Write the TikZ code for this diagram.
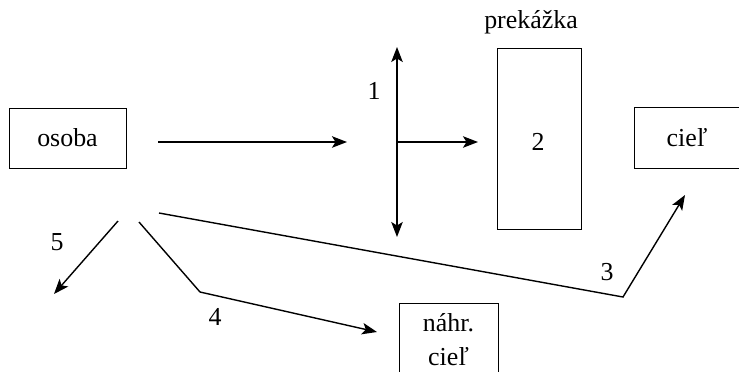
\documentclass[tikz,border=0pt]{standalone}
\usepackage{fontspec}
\setmainfont{Liberation Serif}
\usetikzlibrary{arrows.meta}
\begin{document}
\begin{tikzpicture}[x=1bp,y=-1bp,
  every node/.style={font=\fontsize{26}{34}\selectfont, inner sep=0pt, align=center},
  box/.style={draw, line width=0.9bp, rectangle},
  conn/.style={line width=1.4bp, -{Stealth[length=15bp,width=11.5bp,inset=3.5bp]}},
  both/.style={line width=1.4bp, {Stealth[length=15bp,width=11.5bp,inset=3.5bp]}-{Stealth[length=15bp,width=11.5bp,inset=3.5bp]}}
]
\useasboundingbox (0,0) rectangle (739,371);

% boxes
\node[box, minimum width=117bp, minimum height=60bp] (osoba) at (67.5,138) {osoba};
\node[box, minimum width=84bp, minimum height=181bp] (prek) at (539,138.5) {};
\node (two) at (538,142) {2};
\node (preklab) at (531,22) {prekážka};
\node[box, minimum width=112bp, minimum height=61bp] (ciel) at (690,137.5) {};
\node (cieltext) at (687,138) {cieľ};
\node[box, minimum width=99bp, minimum height=75bp] (nahr) at (448.5,340.5) {};
\node (nahrtext) at (448.5,340) {náhr.\\cieľ};

% connector end points
\coordinate (s0) at (158,142);
\coordinate (e0) at (347,142);
\coordinate (vt) at (397,47);
\coordinate (vb) at (397,237);
\coordinate (vm) at (397,142);
\coordinate (hm) at (478,142);
\coordinate (s3) at (159,213);
\coordinate (k3) at (623,297);
\coordinate (e3) at (685,195);
\coordinate (s4) at (139,222);
\coordinate (k4) at (200,292);
\coordinate (e4) at (377,332);
\coordinate (s5) at (118,221);
\coordinate (e5) at (54,294);

% connectors
\draw[conn] (s0) -- (e0);
\draw[both] (vt) -- (vb);
\draw[conn] (vm) -- (hm);
\draw[conn] (s3) -- (k3) -- (e3);
\draw[conn] (s4) -- (k4) -- (e4);
\draw[conn] (s5) -- (e5);

% labels
\node (l1) at (374,91) {1};
\node (l3) at (607,272) {3};
\node (l4) at (215,317) {4};
\node (l5) at (57,242) {5};
\end{tikzpicture}
\end{document}
